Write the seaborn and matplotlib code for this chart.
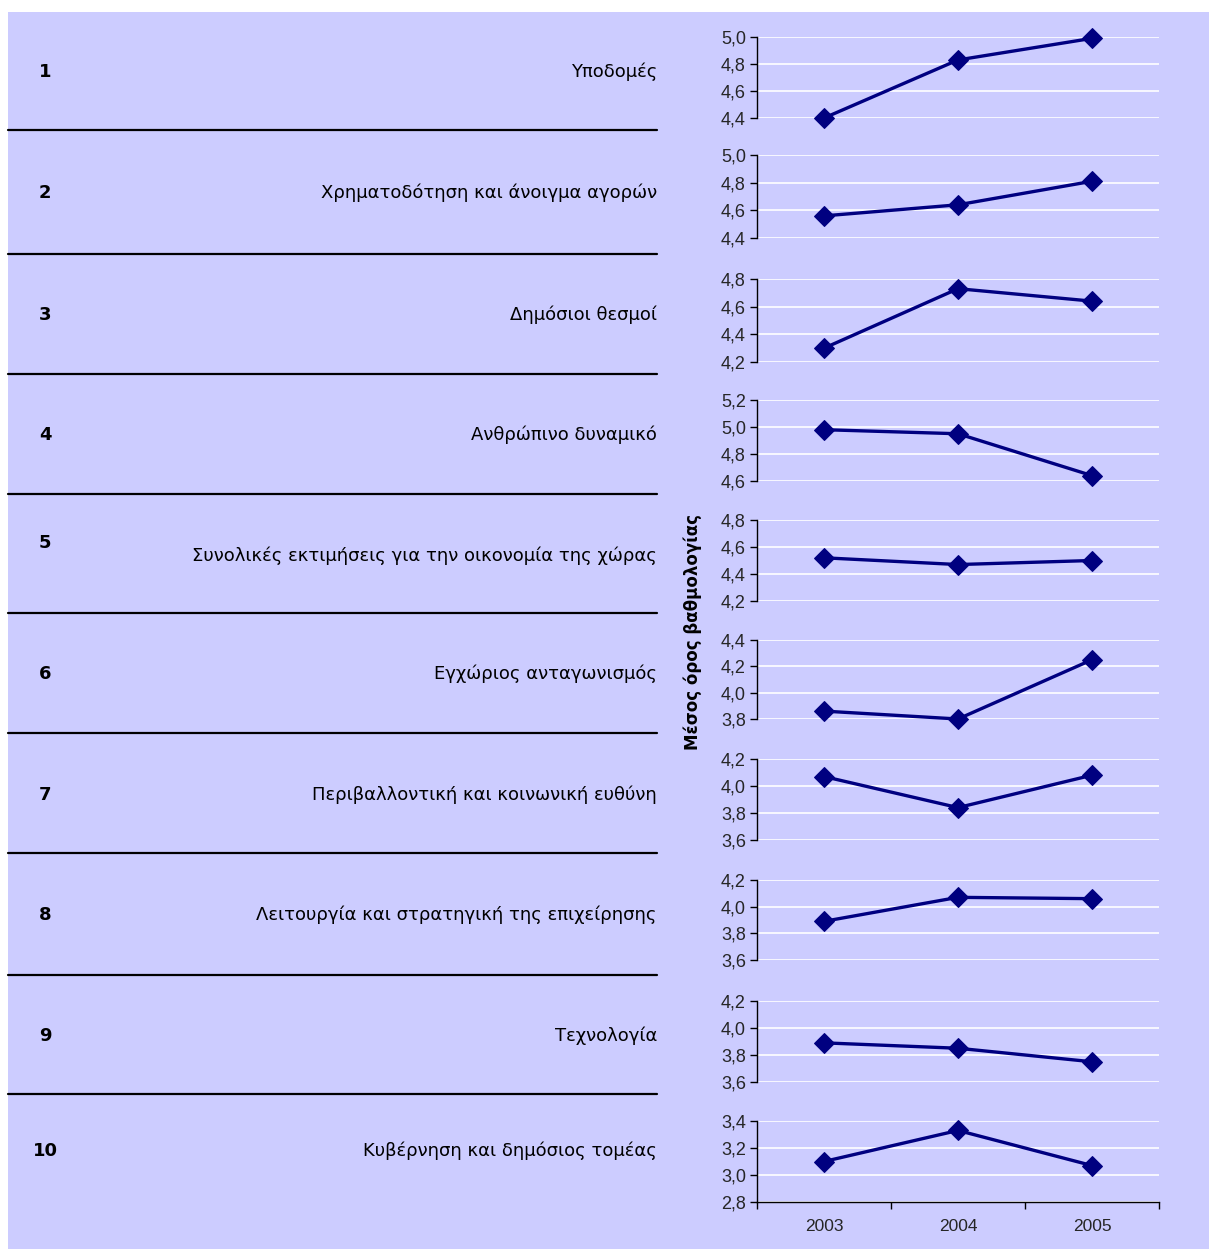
import numpy as np
import matplotlib
matplotlib.use('Agg')
import matplotlib.pyplot as plt
import seaborn as sns
from matplotlib.patches import Rectangle
from matplotlib.lines import Line2D

# Data
years = ['2003', '2004', '2005']
row_numbers = ['1', '2', '3', '4', '5', '6', '7', '8', '9', '10']
categories = ['Υποδομές',
              'Χρηματοδότηση και άνοιγμα αγορών',
              'Δημόσιοι θεσμοί',
              'Ανθρώπινο δυναμικό',
              'Συνολικές εκτιμήσεις για την οικονομία της χώρας',
              'Εγχώριος ανταγωνισμός',
              'Περιβαλλοντική και κοινωνική ευθύνη',
              'Λειτουργία και στρατηγική της επιχείρησης',
              'Τεχνολογία',
              'Κυβέρνηση και δημόσιος τομέας']
scores_1 = [4.40, 4.83, 4.99]
scores_2 = [4.56, 4.64, 4.81]
scores_3 = [4.30, 4.73, 4.64]
scores_4 = [4.98, 4.95, 4.64]
scores_5 = [4.52, 4.47, 4.50]
scores_6 = [3.86, 3.80, 4.25]
scores_7 = [4.07, 3.84, 4.08]
scores_8 = [3.89, 4.07, 4.06]
scores_9 = [3.89, 3.85, 3.75]
scores_10 = [3.10, 3.33, 3.07]
all_scores = [scores_1, scores_2, scores_3, scores_4, scores_5,
              scores_6, scores_7, scores_8, scores_9, scores_10]
y_ranges = [(4.4, 5.0), (4.4, 5.0), (4.2, 4.8), (4.6, 5.2), (4.2, 4.8),
            (3.8, 4.4), (3.6, 4.2), (3.6, 4.2), (3.6, 4.2), (2.8, 3.4)]
y_label = 'Μέσος όρος βαθμολογίας'

# Layout (pixels)
W, H = 1209, 1249
bg = '#CCCCFF'
navy = '#000080'
panel_px = [(37, 118), (155, 238), (279, 362), (400, 481), (520, 601),
            (640, 719), (759, 840), (880, 960), (1001, 1082), (1121, 1202)]
row_y = [72, 193, 315, 435, 556, 674, 795, 915, 1036, 1151]
num_y = [72, 193, 315, 435, 543, 674, 795, 915, 1036, 1151]
sep_y = [130, 254, 374, 494, 613, 733, 853, 975, 1094]
ax_left, ax_right = 757, 1159

sns.set_style('white')
plt.rcParams['font.family'] = ['DejaVu Sans']

fig = plt.figure(figsize=(W / 100, H / 100), dpi=100)
fig.patch.set_facecolor('white')
fig.patches.append(Rectangle((8 / W, 0), 1 - 8 / W, 1 - 12 / H,
                             transform=fig.transFigure, facecolor=bg,
                             edgecolor='none', zorder=-10))


def fx(px):
    return px / W


def fy(py):
    return 1 - py / H


# Left-hand table
for i in range(len(categories)):
    fig.text(fx(45), fy(num_y[i]), row_numbers[i], ha='center', va='center',
             fontsize=13, fontweight='bold', color='black')
    fig.text(fx(657), fy(row_y[i]), categories[i], ha='right', va='center',
             fontsize=13, color='black')
for y in sep_y:
    fig.lines.append(Line2D([fx(8), fx(657)], [fy(y), fy(y)], transform=fig.transFigure,
                            color='black', linewidth=1.6))

fig.text(fx(693), fy(632), y_label, rotation=90, ha='center', va='center',
         fontsize=12, fontweight='bold', color='black')

# Small line panels
xpos = np.arange(len(years))
for i, scores in enumerate(all_scores):
    top, bot = panel_px[i]
    ax = fig.add_axes([fx(ax_left), fy(bot), (ax_right - ax_left) / W, (bot - top) / H])
    ax.set_facecolor('none')
    sns.lineplot(x=xpos, y=scores, ax=ax, color=navy, linewidth=2.4, marker='D',
                 markersize=10, markeredgecolor=navy, clip_on=False, zorder=5)
    lo, hi = y_ranges[i]
    ticks = np.round(np.arange(lo, hi + 0.001, 0.2), 1)
    ax.set_ylim(lo, hi)
    ax.set_yticks(ticks)
    ax.set_yticklabels([f'{t:.1f}'.replace('.', ',') for t in ticks],
                       fontsize=13, family='Liberation Sans')
    ax.set_xlim(-0.5, len(years) - 0.5)
    ax.yaxis.grid(True, color='white', linewidth=1.2)
    ax.set_axisbelow(True)
    for s in ['top', 'right']:
        ax.spines[s].set_visible(False)
    ax.spines['left'].set_color('black')
    ax.spines['left'].set_linewidth(1)
    ax.tick_params(axis='y', left=True, length=5, width=1, color='black', pad=3)
    if i == len(all_scores) - 1:
        ax.spines['bottom'].set_color('black')
        ax.spines['bottom'].set_linewidth(1)
        ax.set_xticks(xpos)
        ax.set_xticklabels(years, fontsize=12.5, family='Liberation Sans')
        ax.set_xticks(np.arange(-0.5, len(years)), minor=True)
        ax.tick_params(axis='x', which='major', length=0, pad=12)
        ax.tick_params(axis='x', which='minor', bottom=True, length=5, width=1, color='black')
    else:
        ax.spines['bottom'].set_visible(False)
        ax.set_xticks([])
    ax.set_xlabel('')
    ax.set_ylabel('')

fig.savefig('out.png', dpi=100, facecolor=fig.get_facecolor())
